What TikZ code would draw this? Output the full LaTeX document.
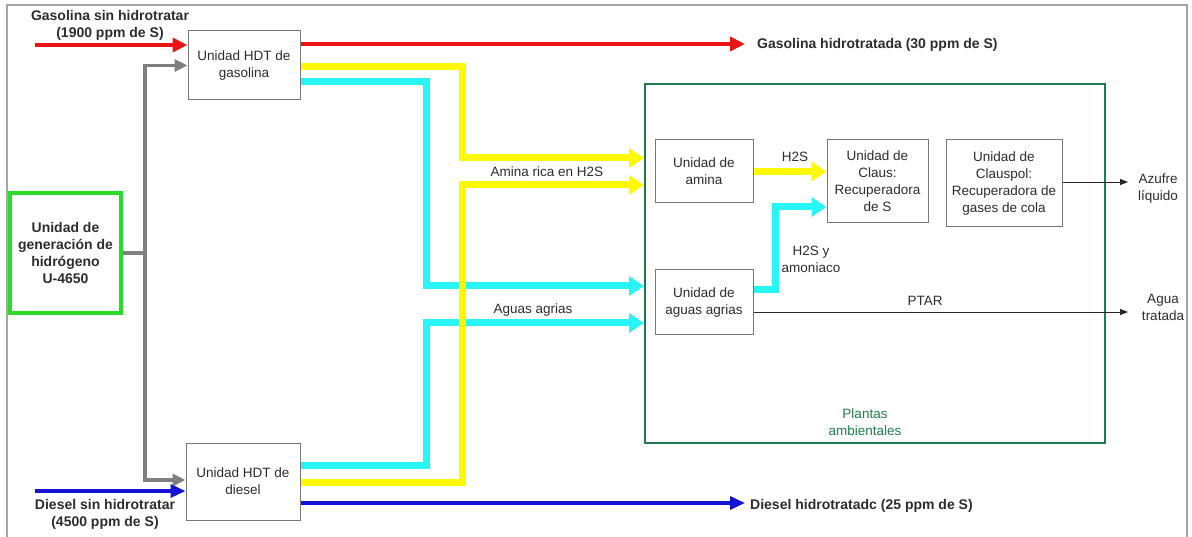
\documentclass[tikz,border=0pt]{standalone}
\usepackage{fontspec}
\setmainfont{Liberation Sans}
\usetikzlibrary{arrows.meta}
\definecolor{cred}{RGB}{235,20,20}
\definecolor{cyel}{RGB}{255,250,0}
\definecolor{ccya}{RGB}{40,245,245}
\definecolor{cblu}{RGB}{20,20,215}
\definecolor{cgry}{RGB}{128,128,128}
\definecolor{cbox}{RGB}{120,120,120}
\definecolor{cgrn}{RGB}{40,220,40}
\definecolor{cplant}{RGB}{30,125,80}
\definecolor{ctxt}{RGB}{45,45,45}
\tikzset{
  unit/.style={draw=cbox, line width=1pt, fill=white, inner sep=0pt, align=center,
    text=ctxt, font=\fontsize{13.5}{17}\selectfont},
  lbl/.style={inner sep=0pt, align=center, text=ctxt, font=\fontsize{13.5}{17}\selectfont},
  blbl/.style={inner sep=0pt, align=center, text=ctxt, font=\bfseries\fontsize{14}{17}\selectfont},
  fat/.style={line width=7pt, -{Triangle[length=15pt,width=19pt]}},
  redflow/.style={draw=cred, line width=4pt, -{Triangle[length=15pt,width=14pt]}},
  bluflow/.style={draw=cblu, line width=3.5pt, -{Triangle[length=15pt,width=13pt]}},
  gryflow/.style={draw=cgry, line width=3.5pt, -{Triangle[length=13pt,width=12pt]}},
  thin/.style={draw=black!85, line width=0.8pt, -{Triangle[length=8pt,width=6pt]}},
}
\begin{document}
\begin{tikzpicture}[x=1pt, y=-1pt]
\useasboundingbox (0,0) rectangle (1192,537);
\draw[draw=black!35, line width=1.2pt] (7,545) -- (7,5) -- (1187,5) -- (1187,545);

% units
\node[unit, minimum width=112pt, minimum height=69pt] (gas) at (244,65.5) {Unidad HDT de\\gasolina};
\node[unit, minimum width=114pt, minimum height=77pt] (dsl) at (243,481.5) {Unidad HDT de\\diesel};
\node[draw=cgrn, line width=3.5pt, inner sep=0pt, minimum width=111pt, minimum height=120pt,
  align=center, text=ctxt, font=\bfseries\fontsize{14}{16.7}\selectfont] (h2) at (65.5,253)
  {Unidad de\\generación de\\hidrógeno\\U-4650};
\node[draw=cplant, line width=2pt, inner sep=0pt, minimum width=460pt, minimum height=359pt] (plant) at (875,263.5) {};
\node[unit, minimum width=98pt, minimum height=63pt] (amina) at (704,171.5) {Unidad de\\amina};
\node[unit, minimum width=101pt, minimum height=83pt] (claus) at (877.5,181.5) {Unidad de\\Claus:\\Recuperadora\\de S};
\node[unit, minimum width=116pt, minimum height=87pt] (clauspol) at (1004,183.5) {Unidad de\\Clauspol:\\Recuperadora de\\gases de cola};
\node[unit, minimum width=98pt, minimum height=65pt] (agrias) at (704,302.5) {Unidad de\\aguas agrias};

% free ends
\coordinate (rin) at (35,45);
\coordinate (gout) at (745,44);
\coordinate (bin) at (35,491);
\coordinate (dout) at (745,503);
\coordinate (hub) at (145,253);
\coordinate (azout) at (1128,182);
\coordinate (agout) at (1128,312);

% gray hydrogen lines
\draw[draw=cgry, line width=3.5pt] (h2.east) -- (hub);
\draw[gryflow] (hub) |- (gas.west);
\draw[gryflow] (hub) |- (dsl.west |- 0,480);

% red / blue
\draw[redflow] (rin) -- (rin -| gas.west);
\draw[redflow] (gout -| gas.east) -- (gout);
\draw[bluflow] (bin) -- (bin -| dsl.west);
\draw[bluflow] (dout -| dsl.east) -- (dout);

% cyan flows
\draw[fat, draw=ccya] (gas.east |- 0,82) -| (426,286) -- (plant.west |- 0,286);
\draw[fat, draw=ccya] (dsl.east |- 0,465) -| (426,323) -- (plant.west |- 0,323);
% yellow flows
\draw[fat, draw=cyel] (gas.east |- 0,67) -| (462,158) -- (plant.west |- 0,158);
\draw[fat, draw=cyel] (dsl.east |- 0,482) -| (462,185) -- (plant.west |- 0,185);

% inside plant
\draw[fat, draw=cyel] (amina.east) -- (amina.east -| claus.west);
\draw[fat, draw=ccya] (agrias.east |- 0,290) -| (775,207) -- (claus.west |- 0,207);
\draw[thin] (clauspol.east |- azout) -- (azout);
\draw[thin] (agrias.east |- agout) -- (agout);

% labels
\node[blbl] (l1) at (110,25) {Gasolina sin hidrotratar\\(1900 ppm de S)};
\node[blbl, anchor=west] (l2) at (757,45) {Gasolina hidrotratada (30 ppm de S)};
\node[blbl] (l3) at (105,514) {Diesel sin hidrotratar\\(4500 ppm de S)};
\node[blbl, anchor=west] (l4) at (750,506) {Diesel hidrotratadc (25 ppm de S)};
\node[lbl] (l5) at (547,172) {Amina rica en H2S};
\node[lbl] (l6) at (533,310) {Aguas agrias};
\node[lbl] (l7) at (795,157) {H2S};
\node[lbl] (l8) at (811,259) {H2S y\\amoniaco};
\node[lbl] (l9) at (925,301) {PTAR};
\node[lbl] (l10) at (1158,189) {Azufre\\líquido};
\node[lbl] (l11) at (1163,307) {Agua\\tratada};
\node[lbl, text=cplant] (l12) at (865,422) {Plantas\\ambientales};
\end{tikzpicture}
\end{document}
